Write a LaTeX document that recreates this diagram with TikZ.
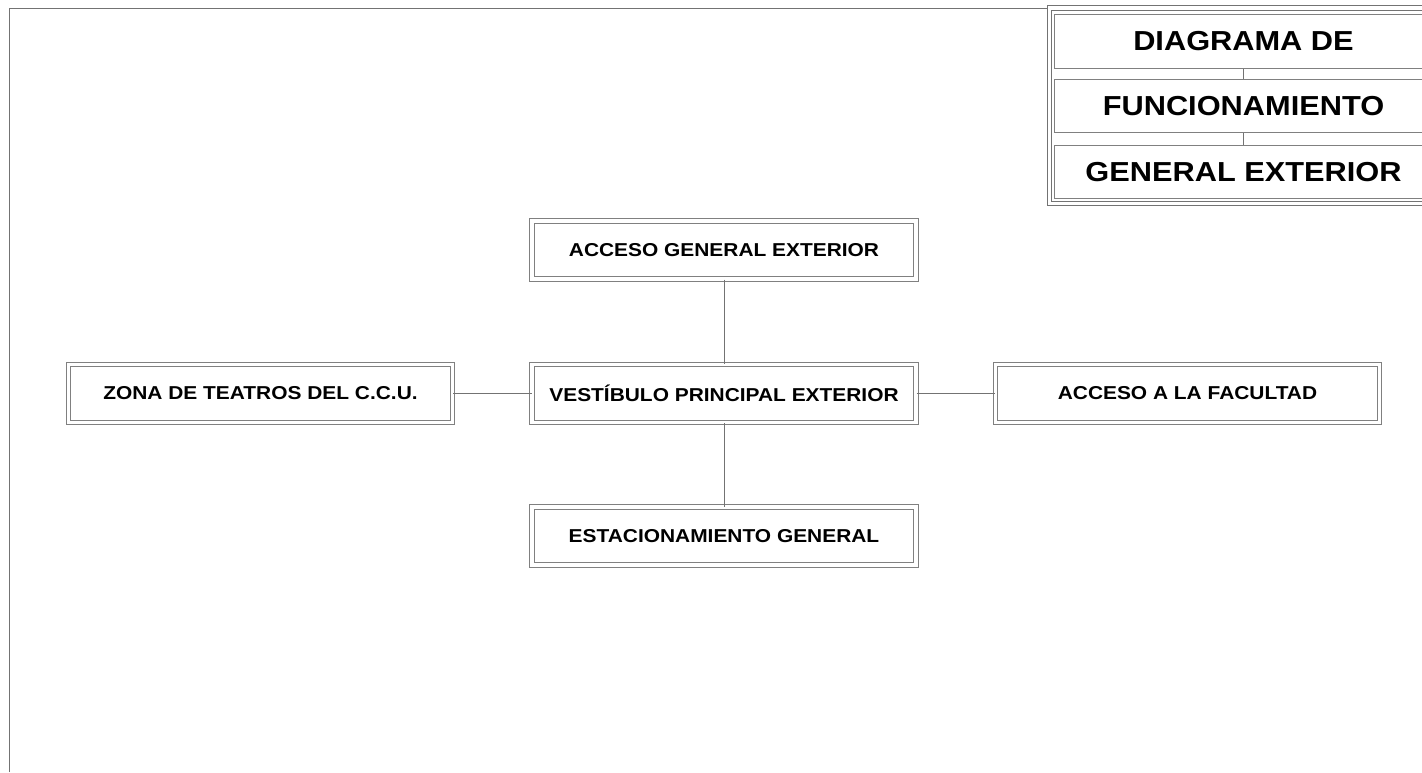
\documentclass[tikz,border=0pt]{standalone}
\usepackage{fontspec}
\setmainfont{Liberation Sans}[FakeStretch=1.12]
\usepackage{tikz}

\begin{document}
\begin{tikzpicture}[x=0.75pt,y=-0.75pt,
    caja/.style={draw=black!50, line width=0.75pt, double, double distance=2.4pt,
        minimum width=288pt, minimum height=43.5pt, inner sep=0pt,
        font=\fontsize{14}{16}\selectfont\bfseries},
    titulo/.style={draw=black!50, line width=0.75pt,
        minimum width=283pt, minimum height=40pt, inner sep=0pt,
        font=\fontsize{20.6}{24}\selectfont\bfseries},
    liga/.style={draw=black!55, line width=0.75pt}]
     \useasboundingbox (0,0) rectangle (1422,772);
     \clip (0,0) rectangle (1422,772);
     % marco
     \draw[liga] (9,772) -- (9,8) -- (1422,8);
     % bloque del titulo
     \draw[liga, double, double distance=2.4pt] (1049.5,8) rectangle (1440,203.5);
     \node[titulo] (titA) at (1243.5,41.5){DIAGRAMA DE};
     \node[titulo] (titB) at (1243.5,106){FUNCIONAMIENTO};
     \node[titulo] (titC) at (1243.5,172){GENERAL EXTERIOR};
     \draw[liga] (titA.south) -- (titB.north);
     \draw[liga] (titB.south) -- (titC.north);
     % diagrama
     \node[caja] (acceso) at (724,250){ACCESO GENERAL EXTERIOR};
     \node[caja] (vestibulo) at (724,393.5){VEST\'IBULO PRINCIPAL EXTERIOR};
     \node[caja] (estacionamiento) at (724,536){ESTACIONAMIENTO GENERAL};
     \node[caja] (zona) at (260.5,393.5){ZONA DE TEATROS DEL C.C.U.};
     \node[caja] (facultad) at (1187.5,393.5){ACCESO A LA FACULTAD};
     \draw[liga] (acceso.south) -- (vestibulo.north);
     \draw[liga] (vestibulo.south) -- (estacionamiento.north);
     \draw[liga] (zona.east) -- (vestibulo.west);
     \draw[liga] (vestibulo.east) -- (facultad.west);
\end{tikzpicture}
\end{document}
